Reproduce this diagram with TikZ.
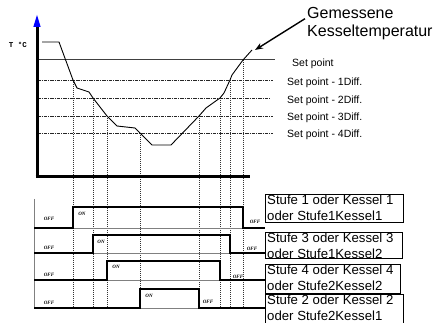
\documentclass[tikz,border=0pt]{standalone}
\usepackage{fontspec}
\setmainfont{Liberation Sans}
\newfontfamily\smallserif{Liberation Serif}
\newfontfamily\smallmono{Liberation Mono}
\usetikzlibrary{arrows.meta}
\tikzset{
  thinline/.style={line width=0.6pt, black!50},
  sig/.style={line width=2.4pt, black, line join=miter},
  tcurve/.style={line width=0.9pt, black, line join=round},
  spline/.style={line width=1pt, black!75},
  diffline/.style={line width=0.8pt, black!85, dash pattern=on 3.5pt off 1pt on 1pt off 1pt},
  vdot/.style={line width=0.6pt, black!80, dash pattern=on 1pt off 1pt},
  lvl/.style={font=\fontsize{10.5}{12}\selectfont, anchor=base west, inner sep=0pt},
  st/.style={font=\fontsize{5}{5.5}\selectfont\smallserif\bfseries\itshape, inner sep=0pt},
  boxframe/.style={draw, line width=0.8pt, inner sep=0pt},
  boxtext/.style={font=\fontsize{13.2}{15.6}\selectfont, align=left, anchor=north west, inner sep=0pt},
  axis/.style={line width=3pt, black},
  pointer/.style={line width=1.4pt, -{Stealth[length=8pt,width=6pt]}}
}
\begin{document}
\begin{tikzpicture}[x=1pt,y=-1pt]
\useasboundingbox (0,0) rectangle (437,323);

% ---- level lines
\draw[spline] (37,60) -- (275,60);
\draw[diffline] (37,80) -- (273,80);
\draw[diffline] (37,98) -- (270,98);
\draw[diffline] (37,116) -- (273,116);
\draw[diffline] (37,133) -- (273,133);

\node[lvl] (sp0) at (292,66.7) {Set point};
\node[lvl] (sp1) at (287,86) {Set point - 1Diff.};
\node[lvl] (sp2) at (287,103.3) {Set point - 2Diff.};
\node[lvl] (sp3) at (287,120.7) {Set point - 3Diff.};
\node[lvl] (sp4) at (287,137.3) {Set point - 4Diff.};

% ---- crossing points
\coordinate (c1) at (73,80);
\coordinate (c2) at (93,98);
\coordinate (c3) at (107,116);
\coordinate (c4) at (140,133);
\coordinate (c5) at (199,116);
\coordinate (c6) at (220,98);
\coordinate (c7) at (230,80);
\coordinate (c8) at (243,60);

% ---- vertical dotted lines
\foreach \c in {c1,c2,c3,c4,c5,c6,c7,c8}
  \draw[vdot] (\c) -- (\c |- 0,308);

% ---- temperature curve
\draw[tcurve] (42,42) -- (59,42) -- (c1) -- (77,88) -- (89,92) -- (c2) -- (c3)
  -- (117,126) -- (135,128) -- (c4) -- (152,145) -- (171,145) -- (c5)
  -- (206,108) -- (c6) -- (224,93) -- (c7) -- (232,75) -- (c8) -- (252,50);

% ---- axes
\draw[axis] (37,177) -- (37,26);
\draw[axis] (35.5,177) -- (250,177);
\fill[blue] (37,15) -- (33.3,27) -- (40.7,27) -- cycle;
\node[font=\fontsize{7.5}{8}\selectfont\smallmono\bfseries, inner sep=0pt] (tc) at (18,45) {T °C};

% ---- annotation
\node[font=\fontsize{16}{18.5}\selectfont, align=left, anchor=north west, inner sep=0pt] (gk) at (307,7) {Gemessene\\Kesseltemperatur};
\coordinate (arrend) at (255,50);
\draw[pointer] ([xshift=-2pt,yshift=5pt]gk.west) -- (arrend);

% ---- signal panels: thin guide lines
\draw[thinline] (34,199) -- (34,308);
\draw[thinline] (34,228) -- (265,228);
\draw[thinline] (34,253) -- (265,253);
\draw[thinline] (34,280) -- (265,280);
\draw[thinline] (34,308) -- (265,308);

% ---- signals
\draw[sig] (34,228) -- (73,228) -- (73,207) -- (243,207) -- (243,228) -- (265,228);
\draw[sig] (34,253) -- (93,253) -- (93,235) -- (230,235) -- (230,253) -- (265,253);
\draw[sig] (34,280) -- (107,280) -- (107,261) -- (220,261) -- (220,280) -- (265,280);
\draw[sig] (34,308) -- (140,308) -- (140,289) -- (199,289) -- (199,308) -- (265,308);

% ---- ON/OFF labels
\node[st] (o1a) at (49,219) {OFF};
\node[st] (n1) at (82,214) {ON};
\node[st] (o1b) at (255,222) {OFF};
\node[st] (o2a) at (49,248) {OFF};
\node[st] (n2) at (101,242) {ON};
\node[st] (o2b) at (252,249) {OFF};
\node[st] (o3a) at (49,275) {OFF};
\node[st] (n3) at (116,267) {ON};
\node[st] (o3b) at (238,277) {OFF};
\node[st] (o4a) at (49,303) {OFF};
\node[st] (n4) at (149,296) {ON};
\node[st] (o4b) at (208,302) {OFF};

% ---- boxes
\node[boxframe, minimum width=138pt, minimum height=28pt, anchor=north west] (b1) at (265,194) {};
\node[boxtext] (t1) at ([xshift=2pt,yshift=-1pt]b1.north west) {Stufe 1 oder Kessel 1\\oder Stufe1Kessel1};
\node[boxframe, minimum width=137pt, minimum height=26pt, anchor=north west] (b2) at (265,232) {};
\node[boxtext] (t2) at ([xshift=2pt,yshift=-1pt]b2.north west) {Stufe 3 oder Kessel 3\\oder Stufe1Kessel2};
\node[boxframe, minimum width=135pt, minimum height=29pt, anchor=north west] (b3) at (265,264) {};
\node[boxtext] (t3) at ([xshift=2pt,yshift=-1pt]b3.north west) {Stufe 4 oder Kessel 4\\oder Stufe2Kessel2};
\node[boxframe, minimum width=138pt, minimum height=34pt, anchor=north west] (b4) at (265,294) {};
\node[boxtext] (t4) at ([xshift=2pt,yshift=-1pt]b4.north west) {Stufe 2 oder Kessel 2\\oder Stufe2Kessel1};
\end{tikzpicture}
\end{document}
